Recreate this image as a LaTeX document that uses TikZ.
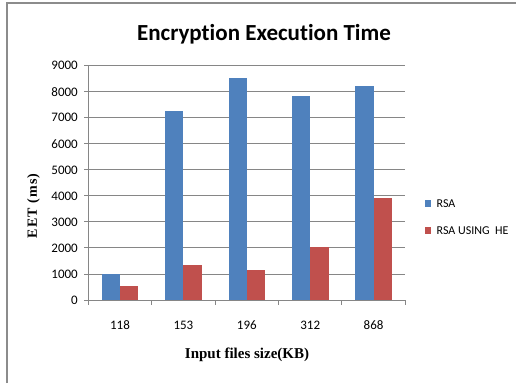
\documentclass[tikz,border=0pt]{standalone}
\usepackage{fontspec}
\setmainfont[Ligatures={NoCommon}]{Carlito}
\newfontfamily\serifax{Liberation Serif}
\newfontfamily\serifsp[LetterSpace=8]{Liberation Serif}
\definecolor{rsablue}{HTML}{4F81BD}
\definecolor{rsared}{HTML}{C0504D}
\definecolor{gridgray}{HTML}{868686}
\definecolor{framegray}{HTML}{8C8C8C}
\begin{document}
\begin{tikzpicture}[x=1pt,y=-1pt,
  gridline/.style={draw=gridgray,line width=0.9pt},
  axisline/.style={draw=gridgray,line width=0.9pt},
  barA/.style={fill=rsablue,draw=none},
  barB/.style={fill=rsared,draw=none},
  ticklab/.style={font=\fontsize{13}{15}\selectfont,inner sep=0pt},
  legtext/.style={font=\fontsize{12}{14}\selectfont,inner sep=0pt,anchor=west},
  axtitle/.style={font=\serifax\bfseries\fontsize{15}{17}\selectfont,inner sep=0pt}]
\useasboundingbox (0,0) rectangle (516,383);
\fill[white] (0,0) rectangle (516,383);
% frame
\draw[framegray,line width=1.6pt] (7,383) -- (7,3) -- (516,3);
% title
\node[font=\bfseries\fontsize{23}{27}\selectfont,inner sep=0pt] (title) at (264,34) {Encryption Execution Time};
% gridlines and y labels
\foreach \v [count=\k from 0] in {0,1000,2000,3000,4000,5000,6000,7000,8000,9000}{
  \pgfmathsetmacro{\yy}{300-26.03*\k}
  \ifnum\k>0 \draw[gridline] (88,\yy) -- (405,\yy);\fi
  \draw[axisline] (84,\yy) -- (88,\yy);
  \node[ticklab,anchor=east] (ylab\k) at (78,\yy) {\v};
}
% bars
\foreach \lab/\a/\b [count=\i from 0] in {118/1000/540,153/7250/1350,196/8520/1150,312/7820/2050,868/8230/3930}{
  \pgfmathsetmacro{\xx}{88.3+63.4*\i}
  \pgfmathsetmacro{\ya}{300-0.02603*\a}
  \pgfmathsetmacro{\yb}{300-0.02603*\b}
  \fill[barA] (\xx+13.4,300) rectangle (\xx+31.7,\ya);
  \fill[barB] (\xx+31.7,300) rectangle (\xx+50,\yb);
  \node[ticklab] (xlab\i) at (\xx+31.7,325) {\lab};
  \draw[axisline] (\xx,300) -- (\xx,304.5);
}
\draw[axisline] (405,300) -- (405,304.5);
% axes
\draw[axisline] (88,300) -- (405,300);
\draw[axisline] (88,65.7) -- (88,300);
% axis titles
\node[axtitle] (xtitle) at (247,355) {Input files size(KB)};
\node[font=\serifsp\bfseries\fontsize{14}{16}\selectfont,inner sep=0pt,rotate=90] (ytitle) at (33.5,206) {EET (ms)};
% legend
\fill[rsablue] (425,200) rectangle (431,206.5);
\node[legtext] (legA) at (436.5,203.5) {RSA};
\fill[rsared] (425,227) rectangle (431,233.5);
\node[legtext] (legB) at (436.5,230.5) {RSA USING\ \ HE};
\end{tikzpicture}
\end{document}
